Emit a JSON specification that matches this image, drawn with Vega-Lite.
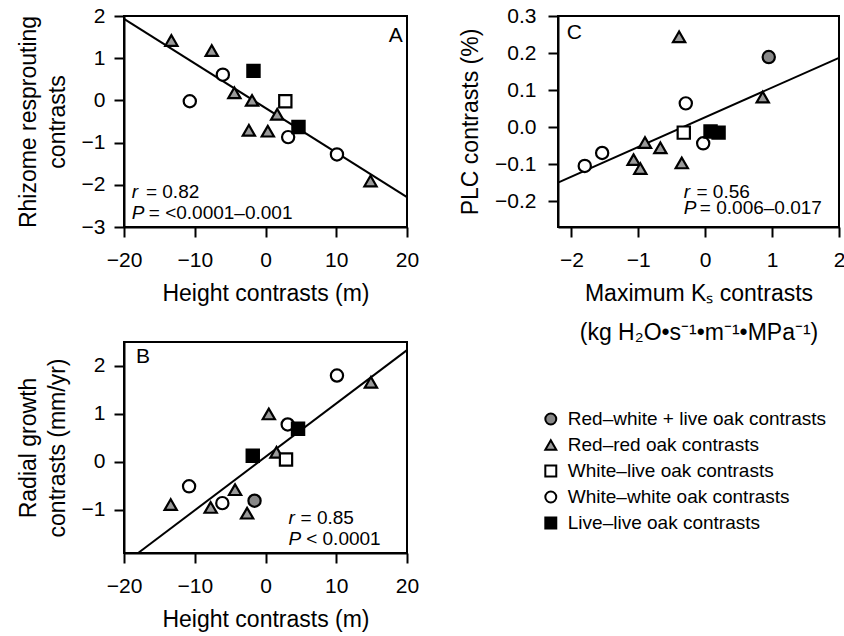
{
  "$schema": "https://vega.github.io/schema/vega-lite/v6.json",
  "padding": {"left": 16, "top": 4, "right": 0, "bottom": 0},
  "background": "white",
  "config": {
    "font": "Liberation Sans",
    "view": {"stroke": "black", "strokeWidth": 2},
    "axis": {"grid": false, "domainColor": "black", "domainWidth": 2, "tickColor": "black", "tickWidth": 2, "tickSize": 10,
      "labelFontSize": 21, "labelColor": "black", "labelFont": "Liberation Sans", "titleFont": "Liberation Sans",
      "titleFontSize": 23, "titleFontWeight": "normal", "titleColor": "black", "labelPadding": 9, "titlePadding": 12,
      "labelFlush": false, "labelOverlap": false}
    ,
    "axisX": {"labelPadding": 12}
  },
  "datasets": {
    "pts": [
      {"panel": "A", "x": -13.3, "y": 1.42, "group": "Red–red oak contrasts"},
      {"panel": "A", "x": -7.6, "y": 1.18, "group": "Red–red oak contrasts"},
      {"panel": "A", "x": -4.4, "y": 0.18, "group": "Red–red oak contrasts"},
      {"panel": "A", "x": -1.9, "y": 0.0, "group": "Red–red oak contrasts"},
      {"panel": "A", "x": 1.65, "y": -0.33, "group": "Red–red oak contrasts"},
      {"panel": "A", "x": -2.35, "y": -0.71, "group": "Red–red oak contrasts"},
      {"panel": "A", "x": 0.33, "y": -0.73, "group": "Red–red oak contrasts"},
      {"panel": "A", "x": 14.84, "y": -1.91, "group": "Red–red oak contrasts"},
      {"panel": "A", "x": -6.03, "y": 0.61, "group": "White–white oak contrasts"},
      {"panel": "A", "x": -10.7, "y": -0.02, "group": "White–white oak contrasts"},
      {"panel": "A", "x": 3.2, "y": -0.87, "group": "White–white oak contrasts"},
      {"panel": "A", "x": 10.1, "y": -1.28, "group": "White–white oak contrasts"},
      {"panel": "A", "x": 2.8, "y": -0.02, "group": "White–live oak contrasts"},
      {"panel": "A", "x": 4.66, "y": -0.63, "group": "Live–live oak contrasts"},
      {"panel": "A", "x": -1.7, "y": 0.7, "group": "Live–live oak contrasts"},
      {"panel": "B", "x": 14.9, "y": 1.66, "group": "Red–red oak contrasts"},
      {"panel": "B", "x": 0.47, "y": 1.0, "group": "Red–red oak contrasts"},
      {"panel": "B", "x": 1.55, "y": 0.2, "group": "Red–red oak contrasts"},
      {"panel": "B", "x": -4.3, "y": -0.58, "group": "Red–red oak contrasts"},
      {"panel": "B", "x": -13.4, "y": -0.89, "group": "Red–red oak contrasts"},
      {"panel": "B", "x": -7.75, "y": -0.95, "group": "Red–red oak contrasts"},
      {"panel": "B", "x": -2.6, "y": -1.07, "group": "Red–red oak contrasts"},
      {"panel": "B", "x": 10.1, "y": 1.8, "group": "White–white oak contrasts"},
      {"panel": "B", "x": 3.14, "y": 0.78, "group": "White–white oak contrasts"},
      {"panel": "B", "x": -10.8, "y": -0.51, "group": "White–white oak contrasts"},
      {"panel": "B", "x": -6.1, "y": -0.86, "group": "White–white oak contrasts"},
      {"panel": "B", "x": 2.9, "y": 0.05, "group": "White–live oak contrasts"},
      {"panel": "B", "x": 4.6, "y": 0.69, "group": "Live–live oak contrasts"},
      {"panel": "B", "x": -1.8, "y": 0.13, "group": "Live–live oak contrasts"},
      {"panel": "B", "x": -1.55, "y": -0.81, "group": "Red–white + live oak contrasts"},
      {"panel": "C", "x": -0.39, "y": 0.244, "group": "Red–red oak contrasts"},
      {"panel": "C", "x": 0.86, "y": 0.081, "group": "Red–red oak contrasts"},
      {"panel": "C", "x": -0.9, "y": -0.042, "group": "Red–red oak contrasts"},
      {"panel": "C", "x": -0.67, "y": -0.056, "group": "Red–red oak contrasts"},
      {"panel": "C", "x": -1.07, "y": -0.088, "group": "Red–red oak contrasts"},
      {"panel": "C", "x": -0.97, "y": -0.112, "group": "Red–red oak contrasts"},
      {"panel": "C", "x": -0.35, "y": -0.097, "group": "Red–red oak contrasts"},
      {"panel": "C", "x": -0.29, "y": 0.064, "group": "White–white oak contrasts"},
      {"panel": "C", "x": -0.03, "y": -0.044, "group": "White–white oak contrasts"},
      {"panel": "C", "x": -1.54, "y": -0.07, "group": "White–white oak contrasts"},
      {"panel": "C", "x": -1.8, "y": -0.105, "group": "White–white oak contrasts"},
      {"panel": "C", "x": -0.32, "y": -0.015, "group": "White–live oak contrasts"},
      {"panel": "C", "x": 0.08, "y": -0.012, "group": "Live–live oak contrasts"},
      {"panel": "C", "x": 0.2, "y": -0.015, "group": "Live–live oak contrasts"},
      {"panel": "C", "x": 0.95, "y": 0.189, "group": "Red–white + live oak contrasts"}
    ],
    "legend": [
      {"group": "Red–white + live oak contrasts"},
      {"group": "Red–red oak contrasts"},
      {"group": "White–live oak contrasts"},
      {"group": "White–white oak contrasts"},
      {"group": "Live–live oak contrasts"}
    ],
    "lines": [
      {"panel": "A", "x": -20, "y": 1.93}, {"panel": "A", "x": 20, "y": -2.29},
      {"panel": "B", "x": -18, "y": -1.9}, {"panel": "B", "x": 20, "y": 2.33},
      {"panel": "C", "x": -2.2, "y": -0.15}, {"panel": "C", "x": 2, "y": 0.187}
    ],
    "ann": [
      {"panel": "A", "x": -18.9, "y": -2.18, "label": "r", "s": "it"},
      {"panel": "A", "x": -16.9, "y": -2.18, "label": "= 0.82", "s": "n"},
      {"panel": "A", "x": -18.9, "y": -2.66, "label": "P", "s": "it"},
      {"panel": "A", "x": -16.5, "y": -2.66, "label": "= <0.0001–0.001", "s": "n"},
      {"panel": "A", "x": 19.4, "y": 1.52, "label": "A", "s": "L"},
      {"panel": "B", "x": 3.24, "y": -1.18, "label": "r", "s": "it"},
      {"panel": "B", "x": 4.95, "y": -1.18, "label": "= 0.85", "s": "n"},
      {"panel": "B", "x": 3.24, "y": -1.61, "label": "P", "s": "it"},
      {"panel": "B", "x": 5.75, "y": -1.61, "label": "< 0.0001", "s": "n"},
      {"panel": "B", "x": -18.3, "y": 2.19, "label": "B", "s": "L"},
      {"panel": "C", "x": -0.32, "y": -0.176, "label": "r", "s": "it"},
      {"panel": "C", "x": -0.13, "y": -0.176, "label": "= 0.56", "s": "n"},
      {"panel": "C", "x": -0.32, "y": -0.22, "label": "P", "s": "it"},
      {"panel": "C", "x": -0.08, "y": -0.22, "label": "= 0.006–0.017", "s": "n"},
      {"panel": "C", "x": -2.07, "y": 0.255, "label": "C", "s": "L"}
    ]
  },
  "resolve": {"scale": {"x": "independent", "y": "independent"}},
  "spacing": 38,
  "hconcat": [
    {
      "resolve": {"scale": {"x": "independent", "y": "independent"}},
      "spacing": 35,
      "vconcat": [
        {
          "width": 283, "height": 211,
          "layer": [
            {"data": {"name": "lines"}, "transform": [{"filter": "datum.panel === 'A'"}],
              "mark": {"type": "line", "color": "black", "strokeWidth": 2},
              "encoding": {
                "x": {"field": "x", "type": "quantitative", "scale": {"domain": [-20, 20], "nice": false, "zero": false},
                  "axis": {"values": [-20, -10, 0, 10, 20], "title": "Height contrasts (m)"}},
                "y": {"field": "y", "type": "quantitative", "scale": {"domain": [-3, 2], "nice": false, "zero": false},
                  "axis": {"values": [-3, -2, -1, 0, 1, 2], "title": ["Rhizome resprouting", "contrasts"], "titleLineHeight": 29}}
              }},
            {"data": {"name": "pts"}, "transform": [{"filter": "datum.panel === 'A'"}],
              "mark": {"type": "point", "filled": true, "stroke": "black", "strokeWidth": 2.2, "size": 150, "opacity": 1},
              "encoding": {
                "x": {"field": "x", "type": "quantitative"},
                "y": {"field": "y", "type": "quantitative"},
                "shape": {"field": "group", "type": "nominal",
                  "scale": {"domain": ["Red–white + live oak contrasts", "Red–red oak contrasts", "White–live oak contrasts", "White–white oak contrasts", "Live–live oak contrasts"],
                    "range": ["circle", "triangle-up", "square", "circle", "square"]}, "legend": null},
                "fill": {"field": "group", "type": "nominal",
                  "scale": {"domain": ["Red–white + live oak contrasts", "Red–red oak contrasts", "White–live oak contrasts", "White–white oak contrasts", "Live–live oak contrasts"],
                    "range": ["#888888", "#9a9a9a", "white", "white", "black"]}, "legend": null}
              }},
            {"data": {"name": "ann"}, "transform": [{"filter": "datum.panel === 'A' && datum.s === 'it'"}],
              "mark": {"type": "text", "fontStyle": "italic", "fontSize": 19, "align": "left", "baseline": "middle", "color": "black"},
              "encoding": {"x": {"field": "x", "type": "quantitative"}, "y": {"field": "y", "type": "quantitative"}, "text": {"field": "label"}}},
            {"data": {"name": "ann"}, "transform": [{"filter": "datum.panel === 'A' && datum.s === 'n'"}],
              "mark": {"type": "text", "fontSize": 19, "align": "left", "baseline": "middle", "color": "black"},
              "encoding": {"x": {"field": "x", "type": "quantitative"}, "y": {"field": "y", "type": "quantitative"}, "text": {"field": "label"}}},
            {"data": {"name": "ann"}, "transform": [{"filter": "datum.panel === 'A' && datum.s === 'L'"}],
              "mark": {"type": "text", "fontSize": 21, "align": "right", "baseline": "middle", "color": "black"},
              "encoding": {"x": {"field": "x", "type": "quantitative"}, "y": {"field": "y", "type": "quantitative"}, "text": {"field": "label"}}}
          ]
        },
        {
          "width": 283, "height": 211,
          "layer": [
            {"data": {"name": "lines"}, "transform": [{"filter": "datum.panel === 'B'"}],
              "mark": {"type": "line", "color": "black", "strokeWidth": 2},
              "encoding": {
                "x": {"field": "x", "type": "quantitative", "scale": {"domain": [-20, 20], "nice": false, "zero": false},
                  "axis": {"values": [-20, -10, 0, 10, 20], "title": "Height contrasts (m)"}},
                "y": {"field": "y", "type": "quantitative", "scale": {"domain": [-1.9, 2.5], "nice": false, "zero": false},
                  "axis": {"values": [-1, 0, 1, 2], "title": ["Radial growth", "contrasts (mm/yr)"], "titleLineHeight": 29}}
              }},
            {"data": {"name": "pts"}, "transform": [{"filter": "datum.panel === 'B'"}],
              "mark": {"type": "point", "filled": true, "stroke": "black", "strokeWidth": 2.2, "size": 150, "opacity": 1},
              "encoding": {
                "x": {"field": "x", "type": "quantitative"},
                "y": {"field": "y", "type": "quantitative"},
                "shape": {"field": "group", "type": "nominal",
                  "scale": {"domain": ["Red–white + live oak contrasts", "Red–red oak contrasts", "White–live oak contrasts", "White–white oak contrasts", "Live–live oak contrasts"],
                    "range": ["circle", "triangle-up", "square", "circle", "square"]}, "legend": null},
                "fill": {"field": "group", "type": "nominal",
                  "scale": {"domain": ["Red–white + live oak contrasts", "Red–red oak contrasts", "White–live oak contrasts", "White–white oak contrasts", "Live–live oak contrasts"],
                    "range": ["#888888", "#9a9a9a", "white", "white", "black"]}, "legend": null}
              }},
            {"data": {"name": "ann"}, "transform": [{"filter": "datum.panel === 'B' && datum.s === 'it'"}],
              "mark": {"type": "text", "fontStyle": "italic", "fontSize": 19, "align": "left", "baseline": "middle", "color": "black"},
              "encoding": {"x": {"field": "x", "type": "quantitative"}, "y": {"field": "y", "type": "quantitative"}, "text": {"field": "label"}}},
            {"data": {"name": "ann"}, "transform": [{"filter": "datum.panel === 'B' && datum.s === 'n'"}],
              "mark": {"type": "text", "fontSize": 19, "align": "left", "baseline": "middle", "color": "black"},
              "encoding": {"x": {"field": "x", "type": "quantitative"}, "y": {"field": "y", "type": "quantitative"}, "text": {"field": "label"}}},
            {"data": {"name": "ann"}, "transform": [{"filter": "datum.panel === 'B' && datum.s === 'L'"}],
              "mark": {"type": "text", "fontSize": 21, "align": "left", "baseline": "middle", "color": "black"},
              "encoding": {"x": {"field": "x", "type": "quantitative"}, "y": {"field": "y", "type": "quantitative"}, "text": {"field": "label"}}}
          ]
        }
      ]
    },
    {
      "resolve": {"scale": {"x": "independent", "y": "independent"}},
      "spacing": 61,
      "vconcat": [
        {
          "width": 281, "height": 211,
          "layer": [
            {"data": {"name": "lines"}, "transform": [{"filter": "datum.panel === 'C'"}],
              "mark": {"type": "line", "color": "black", "strokeWidth": 2},
              "encoding": {
                "x": {"field": "x", "type": "quantitative", "scale": {"domain": [-2.2, 2], "nice": false, "zero": false},
                  "axis": {"values": [-2, -1, 0, 1, 2], "format": "d", "title": ["Maximum Kₛ contrasts", "(kg H₂O•s⁻¹•m⁻¹•MPa⁻¹)"], "titleLineHeight": 39}},
                "y": {"field": "y", "type": "quantitative", "scale": {"domain": [-0.27, 0.3], "nice": false, "zero": false},
                  "axis": {"values": [-0.2, -0.1, 0, 0.1, 0.2, 0.3], "format": ".1f", "title": "PLC contrasts (%)", "labelPadding": 12}}
              }},
            {"data": {"name": "pts"}, "transform": [{"filter": "datum.panel === 'C'"}],
              "mark": {"type": "point", "filled": true, "stroke": "black", "strokeWidth": 2.2, "size": 150, "opacity": 1},
              "encoding": {
                "x": {"field": "x", "type": "quantitative"},
                "y": {"field": "y", "type": "quantitative"},
                "shape": {"field": "group", "type": "nominal",
                  "scale": {"domain": ["Red–white + live oak contrasts", "Red–red oak contrasts", "White–live oak contrasts", "White–white oak contrasts", "Live–live oak contrasts"],
                    "range": ["circle", "triangle-up", "square", "circle", "square"]}, "legend": null},
                "fill": {"field": "group", "type": "nominal",
                  "scale": {"domain": ["Red–white + live oak contrasts", "Red–red oak contrasts", "White–live oak contrasts", "White–white oak contrasts", "Live–live oak contrasts"],
                    "range": ["#888888", "#9a9a9a", "white", "white", "black"]}, "legend": null}
              }},
            {"data": {"name": "ann"}, "transform": [{"filter": "datum.panel === 'C' && datum.s === 'it'"}],
              "mark": {"type": "text", "fontStyle": "italic", "fontSize": 19, "align": "left", "baseline": "middle", "color": "black"},
              "encoding": {"x": {"field": "x", "type": "quantitative"}, "y": {"field": "y", "type": "quantitative"}, "text": {"field": "label"}}},
            {"data": {"name": "ann"}, "transform": [{"filter": "datum.panel === 'C' && datum.s === 'n'"}],
              "mark": {"type": "text", "fontSize": 19, "align": "left", "baseline": "middle", "color": "black"},
              "encoding": {"x": {"field": "x", "type": "quantitative"}, "y": {"field": "y", "type": "quantitative"}, "text": {"field": "label"}}},
            {"data": {"name": "ann"}, "transform": [{"filter": "datum.panel === 'C' && datum.s === 'L'"}],
              "mark": {"type": "text", "fontSize": 21, "align": "left", "baseline": "middle", "color": "black"},
              "encoding": {"x": {"field": "x", "type": "quantitative"}, "y": {"field": "y", "type": "quantitative"}, "text": {"field": "label"}}}
          ]
        },
        {
          "width": 281, "height": 130,
          "view": {"stroke": null},
          "data": {"name": "legend"},
          "layer": [
            {
              "mark": {"type": "point", "filled": true, "stroke": "black", "strokeWidth": 2, "size": 120, "opacity": 1, "clip": false},
              "encoding": {
                "x": {"datum": 0, "type": "quantitative", "scale": {"domain": [0.025, 1], "nice": false, "zero": false}, "axis": null},
                "y": {"field": "group", "type": "nominal", "sort": null, "scale": {"domain": ["Red–white + live oak contrasts", "Red–red oak contrasts", "White–live oak contrasts", "White–white oak contrasts", "Live–live oak contrasts"]}, "axis": null},
                "shape": {"field": "group", "type": "nominal",
                  "scale": {"domain": ["Red–white + live oak contrasts", "Red–red oak contrasts", "White–live oak contrasts", "White–white oak contrasts", "Live–live oak contrasts"],
                    "range": ["circle", "triangle-up", "square", "circle", "square"]}, "legend": null},
                "fill": {"field": "group", "type": "nominal",
                  "scale": {"domain": ["Red–white + live oak contrasts", "Red–red oak contrasts", "White–live oak contrasts", "White–white oak contrasts", "Live–live oak contrasts"],
                    "range": ["#888888", "#9a9a9a", "white", "white", "black"]}, "legend": null}
              }
            },
            {
              "mark": {"type": "text", "fontSize": 19, "align": "left", "baseline": "middle", "dx": 17, "color": "black", "clip": false},
              "encoding": {
                "x": {"datum": 0, "type": "quantitative"},
                "y": {"field": "group", "type": "nominal"},
                "text": {"field": "group"}
              }
            }
          ]
        }
      ]
    }
  ]
}
